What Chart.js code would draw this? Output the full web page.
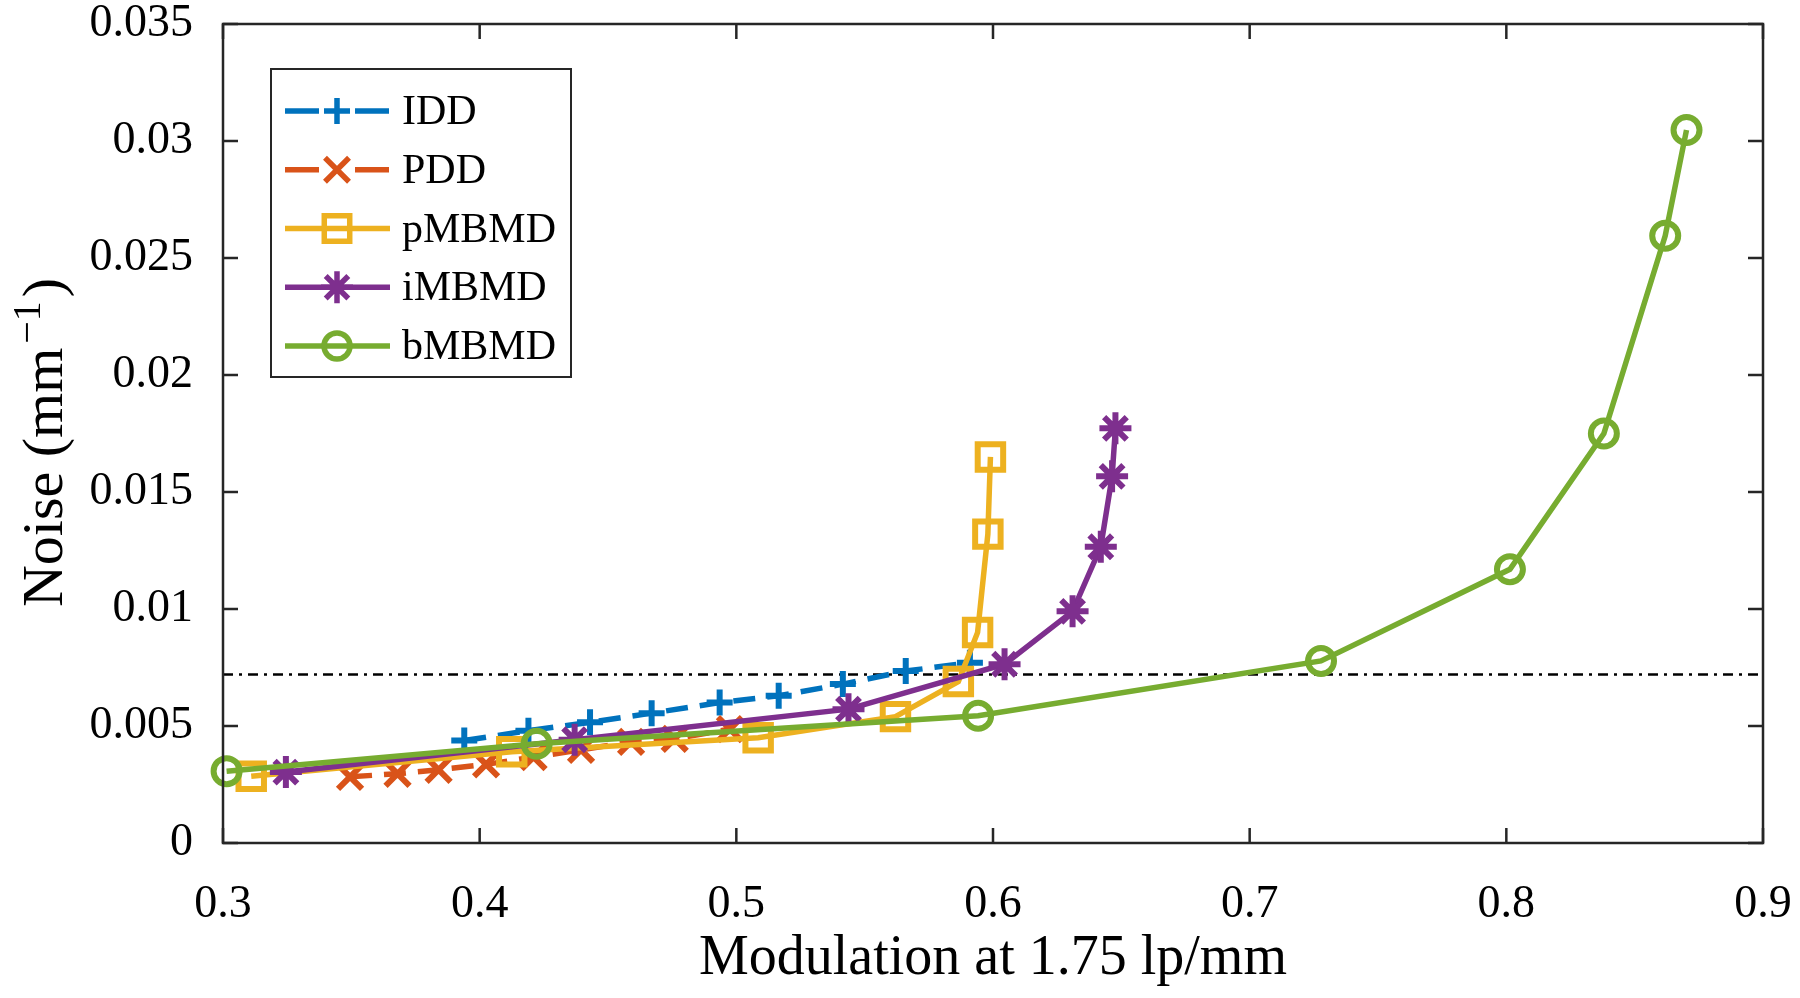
<!DOCTYPE html>
<html>
<head>
<meta charset="utf-8">
<script src="https://cdn.jsdelivr.net/npm/chart.js@4"></script>
<style>
  html, body { margin: 0; padding: 0; background: #fff; }
  #wrap { width: 1800px; height: 998px; }
</style>
</head>
<body>
<div id="wrap"><canvas id="myChart" width="1800" height="998"></canvas></div>
<script>
// values
const seriesNames = ["IDD", "PDD", "pMBMD", "iMBMD", "bMBMD"];

const iddX = [0.394, 0.419, 0.443, 0.467, 0.4935, 0.5165, 0.5415, 0.566, 0.591];
const iddY = [0.00438, 0.0048, 0.00516, 0.00555, 0.006, 0.00629, 0.00679, 0.00735, 0.0077];

const pddX = [0.3495, 0.368, 0.384, 0.4025, 0.421, 0.4395, 0.459, 0.476, 0.4975];
const pddY = [0.00283, 0.00296, 0.00313, 0.00336, 0.00367, 0.00398, 0.00432, 0.00445, 0.00487];

const pmbmdX = [0.311, 0.4125, 0.5085, 0.562, 0.5865, 0.594, 0.598, 0.599];
const pmbmdY = [0.00285, 0.0039, 0.0045, 0.0054, 0.0069, 0.009, 0.0132, 0.0165];

const imbmdX = [0.3245, 0.437, 0.5437, 0.6045, 0.631, 0.642, 0.6464, 0.6477];
const imbmdY = [0.00303, 0.00441, 0.00572, 0.00764, 0.0099, 0.01266, 0.01567, 0.01772];

const bmbmdX = [0.3014, 0.4222, 0.5942, 0.7278, 0.8014, 0.838, 0.8619, 0.8702];
const bmbmdY = [0.00307, 0.00424, 0.00544, 0.00778, 0.0117, 0.0175, 0.02595, 0.03047];

const thresholdX = [0.3, 0.9];
const thresholdY = [0.0072, 0.0072];

const xTicks = [0.3, 0.4, 0.5, 0.6, 0.7, 0.8, 0.9];
const yTicks = [0, 0.005, 0.01, 0.015, 0.02, 0.025, 0.03, 0.035];

const FONT = "'Liberation Serif', 'Times New Roman', serif";
const AXIS_COLOR = "#262626";

const toPoints = function (xs, ys) {
  return xs.map((x, i) => ({ x: x, y: ys[i] }));
};

const makeSeries = function (label, xs, ys, color, style, radius, dash, order) {
  return {
    label: label,
    data: toPoints(xs, ys),
    showLine: true,
    borderColor: color,
    backgroundColor: "rgba(0,0,0,0)",
    borderWidth: 5.5,
    borderDash: dash,
    pointStyle: style,
    pointRadius: radius,
    pointBorderWidth: 6,
    pointBorderColor: color,
    pointBackgroundColor: "rgba(0,0,0,0)",
    order: order,
    clip: false,
  };
};

// no extra room for tick labels sticking out of the axes
const noLabelPadding = function (scale) {
  scale.paddingTop = 0;
  scale.paddingBottom = 0;
  scale.paddingLeft = 0;
  scale.paddingRight = 0;
};

// draws the full MATLAB style box with inward ticks
const boxAxes = {
  id: "boxAxes",
  afterDraw(chart) {
    const ctx = chart.ctx;
    const a = chart.chartArea;
    const xs = chart.scales.x;
    const ys = chart.scales.y;
    const len = 15;
    ctx.save();
    ctx.strokeStyle = AXIS_COLOR;
    ctx.lineWidth = 2.5;
    ctx.setLineDash([]);
    ctx.strokeRect(a.left, a.top, a.right - a.left, a.bottom - a.top);
    ctx.beginPath();
    for (let v of xTicks) {
      const px = xs.getPixelForValue(v);
      ctx.moveTo(px, a.bottom); ctx.lineTo(px, a.bottom - len);
      ctx.moveTo(px, a.top); ctx.lineTo(px, a.top + len);
    }
    for (let v of yTicks) {
      const py = ys.getPixelForValue(v);
      ctx.moveTo(a.left, py); ctx.lineTo(a.left + len, py);
      ctx.moveTo(a.right, py); ctx.lineTo(a.right - len, py);
    }
    ctx.stroke();

    // y title with a real superscript
    const cy = (a.top + a.bottom) / 2 + 9;
    const main = "58px " + FONT;
    const sup = "40px " + FONT;
    ctx.font = main;
    const w1 = ctx.measureText("Noise (mm").width;
    const w3 = ctx.measureText(")").width;
    ctx.font = sup;
    const w2 = ctx.measureText("\u22121").width;
    const total = w1 + w2 + w3 + 8;
    ctx.translate(62, cy);
    ctx.rotate(-Math.PI / 2);
    ctx.fillStyle = "#000";
    ctx.textBaseline = "alphabetic";
    ctx.textAlign = "left";
    let x = -total / 2;
    ctx.font = main;
    ctx.fillText("Noise (mm", x, 0);
    x += w1 + 4;
    ctx.font = sup;
    ctx.fillText("\u22121", x, -22);
    x += w2 + 4;
    ctx.font = main;
    ctx.fillText(")", x, 0);
    ctx.restore();
  },
};

// legend with a line sample and the marker on it
const legendBox = {
  id: "legendBox",
  afterDraw(chart) {
    const ctx = chart.ctx;
    const a = chart.chartArea;
    const x0 = a.left + 48;
    const y0 = a.top + 45;
    const w = 300;
    const h = 308;
    ctx.save();
    ctx.fillStyle = "#fff";
    ctx.fillRect(x0, y0, w, h);
    ctx.strokeStyle = AXIS_COLOR;
    ctx.lineWidth = 2;
    ctx.strokeRect(x0, y0, w, h);
    seriesNames.forEach((name, i) => {
      const ds = chart.data.datasets[i];
      const y = y0 + 42 + i * 58.75;
      ctx.strokeStyle = ds.borderColor;
      ctx.lineWidth = ds.borderWidth;
      ctx.setLineDash(ds.borderDash && ds.borderDash.length ? [34, 36] : []);
      ctx.beginPath();
      ctx.moveTo(x0 + 14, y);
      ctx.lineTo(x0 + 119, y);
      ctx.stroke();
      ctx.setLineDash([]);
      ctx.fillStyle = "rgba(0,0,0,0)";
      Chart.helpers.drawPoint(ctx, {
        pointStyle: ds.pointStyle,
        radius: ds.pointRadius,
        borderWidth: ds.pointBorderWidth,
        rotation: 0,
      }, x0 + 66, y);
      ctx.fillStyle = "#000";
      ctx.font = "42px " + FONT;
      ctx.textBaseline = "middle";
      ctx.textAlign = "left";
      ctx.fillText(name, x0 + 131, y + 2);
    });
    ctx.restore();
  },
};

const config = {
  type: "scatter",
  data: {
    datasets: [
      makeSeries(seriesNames[0], iddX, iddY, "#0072BD", "cross", 13, [22, 12], 5),
      makeSeries(seriesNames[1], pddX, pddY, "#D95319", "crossRot", 17, [22, 12], 4),
      makeSeries(seriesNames[2], pmbmdX, pmbmdY, "#EDB120", "rect", 18, [], 3),
      makeSeries(seriesNames[3], imbmdX, imbmdY, "#7E2F8E", "star", 16, [], 2),
      makeSeries(seriesNames[4], bmbmdX, bmbmdY, "#77AC30", "circle", 13, [], 1),
      {
        label: "threshold",
        data: toPoints(thresholdX, thresholdY),
        showLine: true,
        borderColor: "#000",
        borderWidth: 2.5,
        borderDash: [10, 6, 3, 6],
        pointRadius: 0,
        order: 10,
      },
    ],
  },
  options: {
    responsive: false,
    animation: false,
    layout: {
      padding: { top: 20, right: 37, left: 0, bottom: 0 },
    },
    scales: {
      x: {
        type: "linear",
        min: 0.3,
        max: 0.9,
        afterBuildTicks: (scale) => { scale.ticks = xTicks.map((v) => ({ value: v })); },
        afterFit: (scale) => { scale.height = 155; noLabelPadding(scale); },
        grid: { display: false, drawTicks: false },
        border: { display: false },
        ticks: {
          padding: 34,
          color: "#000",
          font: { size: 46, family: FONT },
          callback: (v) => v.toFixed(1),
        },
        title: {
          display: true,
          text: "Modulation at 1.75 lp/mm",
          color: "#000",
          padding: { top: 0, bottom: 5 },
          font: { size: 56, family: FONT },
        },
      },
      y: {
        type: "linear",
        min: 0,
        max: 0.035,
        afterBuildTicks: (scale) => { scale.ticks = yTicks.map((v) => ({ value: v })); },
        afterFit: (scale) => { scale.width = 223; noLabelPadding(scale); },
        grid: { display: false, drawTicks: false },
        border: { display: false },
        ticks: {
          padding: 30,
          color: "#000",
          font: { size: 46, family: FONT },
          callback: (v) => String(+v.toFixed(3)),
        },
        title: { display: false },
      },
    },
    plugins: {
      legend: { display: false },
      tooltip: { enabled: false },
    },
  },
  plugins: [boxAxes, legendBox],
};

const ctx = document.getElementById("myChart");
const noiseChart = new Chart(ctx, config);
</script>
</body>
</html>
